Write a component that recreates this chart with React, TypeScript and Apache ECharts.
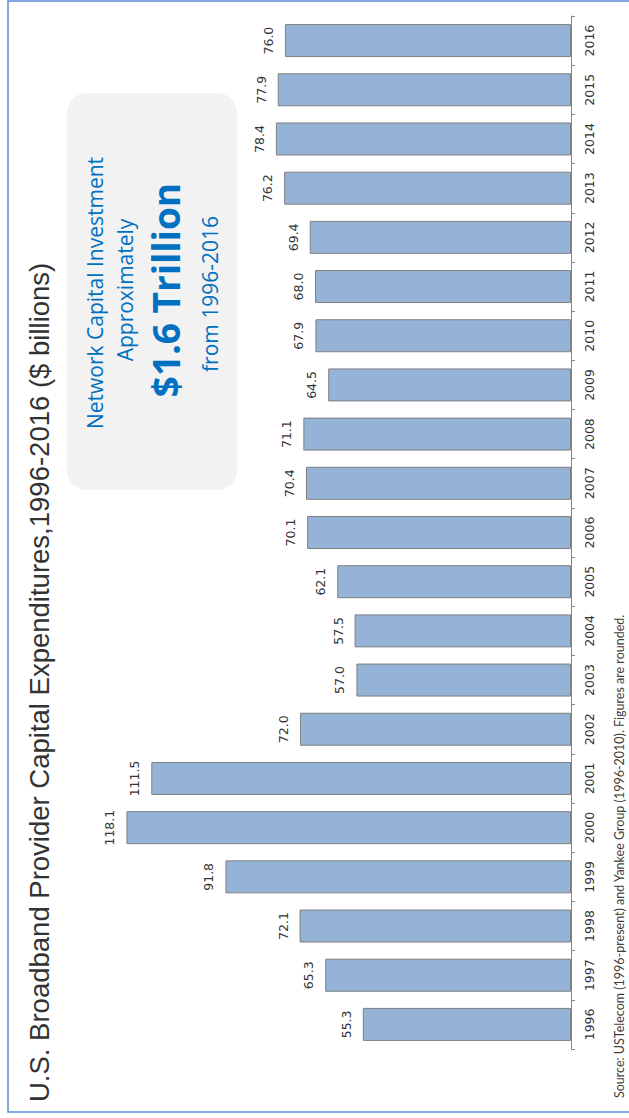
import React, { useEffect, useRef } from "react";
import * as echarts from "echarts";

const years = ["1996","1997","1998","1999","2000","2001","2002","2003","2004","2005","2006","2007","2008","2009","2010","2011","2012","2013","2014","2015","2016"];
const capex = [55.3,65.3,72.1,91.8,118.1,111.5,72.0,57.0,57.5,62.1,70.1,70.4,71.1,64.5,67.9,68.0,69.4,76.2,78.4,77.9,76.0];
const titleText = "U.S. Broadband Provider Capital Expenditures,1996-2016 ($ billions)";
const sourceText = "Source: USTelecom (1996-present) and Yankee Group (1996-2010). Figures are rounded.";
const calloutLines = ["Network Capital Investment", "Approximately", "$1.6 Trillion", "from 1996-2016"];

export default function App() {
  const ref = useRef<HTMLDivElement>(null);
  useEffect(() => {
    const chart = echarts.init(ref.current!, null, { renderer: "svg" });
    const R = Math.PI / 2;
    const blue = "#0070C0";
    chart.setOption({
      animation: false,
      backgroundColor: "#ffffff",
      grid: { left: 44, right: 58, top: 16, bottom: 69 },
      xAxis: { type: "value", inverse: true, min: 0, max: 140, show: false },
      yAxis: {
        type: "category",
        position: "right",
        data: years,
        axisLine: { lineStyle: { color: "#868686", width: 1 } },
        axisTick: { show: true, length: 4, lineStyle: { color: "#868686" } },
        axisLabel: { rotate: 90, margin: 12, color: "#333333", fontFamily: "DejaVu Sans", fontSize: 12.5 },
      },
      series: [
        {
          type: "bar",
          data: capex,
          barWidth: 33,
          itemStyle: { color: "#95B3D7", borderColor: "#7F7F7F", borderWidth: 1 },
          label: {
            show: true,
            position: "left",
            distance: 10,
            rotate: 90,
            align: "center",
            verticalAlign: "bottom",
            color: "#333333",
            fontFamily: "DejaVu Sans",
            fontSize: 12.5,
            formatter: (p: any) => Number(p.value).toFixed(1),
          },
        },
      ],
      graphic: [
        { type: "rect", shape: { x: 8, y: 1, width: 700, height: 1111 }, style: { fill: "none", stroke: "#5B8BD6", lineWidth: 1.5 }, silent: true },
        { type: "rect", shape: { x: 67, y: 93, width: 170, height: 397, r: 20 }, style: { fill: "#F2F2F2" }, z: 1 },
        { type: "text", x: 95, y: 293, rotation: R, z: 2, style: { text: calloutLines[0], fill: blue, font: "21px 'Open Sans'", textAlign: "center", textVerticalAlign: "middle" } },
        { type: "text", x: 125, y: 290, rotation: R, z: 2, style: { text: calloutLines[1], fill: blue, font: "21px 'Open Sans'", textAlign: "center", textVerticalAlign: "middle" } },
        { type: "text", x: 165, y: 290, rotation: R, z: 2, style: { text: calloutLines[2], fill: blue, font: "bold 37px 'Open Sans'", textAlign: "center", textVerticalAlign: "middle" } },
        { type: "text", x: 210, y: 294, rotation: R, z: 2, style: { text: calloutLines[3], fill: blue, font: "21px 'Open Sans'", textAlign: "center", textVerticalAlign: "middle" } },
        { type: "text", x: 39, y: 1102, rotation: R, style: { text: titleText, fill: "#333333", font: "27.5px 'Liberation Sans'", textAlign: "left", textVerticalAlign: "middle" } },
        { type: "text", x: 619, y: 1098, rotation: R, style: { text: sourceText, fill: "#404040", font: "12.5px Lato", textAlign: "left", textVerticalAlign: "middle" } },
      ],
    });
    return () => chart.dispose();
  }, []);
  return <div ref={ref} style={{ position: "fixed", left: 0, top: 0, width: 629, height: 1118 }} />;
}
